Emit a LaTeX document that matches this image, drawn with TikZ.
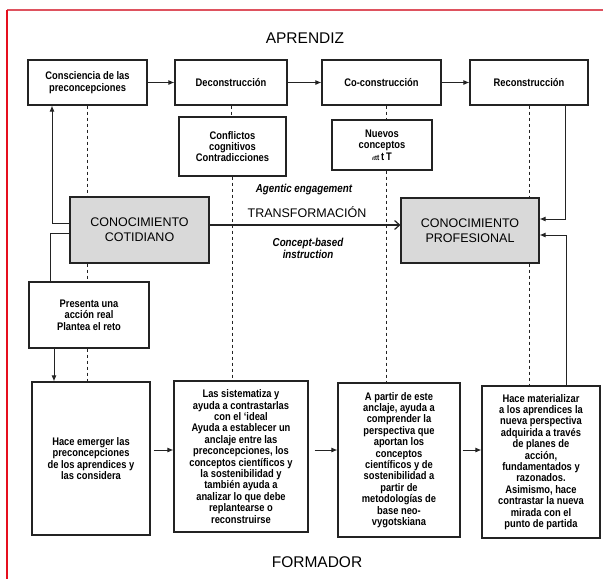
\documentclass[tikz,border=0pt]{standalone}
\usepackage{fontspec}
\setmainfont{Liberation Sans}
\newfontfamily\nar[FakeStretch=0.85]{Liberation Sans}
\usetikzlibrary{arrows.meta}
\definecolor{boxgray}{RGB}{217,217,217}
\definecolor{lineink}{RGB}{35,35,35}
\definecolor{redtop}{RGB}{222,82,95}
\definecolor{redleft}{RGB}{230,15,30}
\begin{document}
\begin{tikzpicture}[x=1pt,y=-1pt,
  box/.style={draw=lineink, line width=1.1pt, inner sep=0pt, align=center,
    font=\nar\bfseries\fontsize{11}{11.4}\selectfont},
  bigbox/.style={box, fill=boxgray, font=\fontsize{12.5}{15}\selectfont},
  dashline/.style={draw=lineink, line width=0.9pt, dash pattern=on 3.5pt off 2.5pt},
  conn/.style={draw=lineink, line width=1pt},
  arr/.style={conn, -{Latex[length=6pt,width=5pt]}},
  openarr/.style={conn, line width=1.2pt, -{Straight Barb[length=5pt,width=9pt]}},
  head/.style={font=\fontsize{15.5}{18}\selectfont, inner sep=0pt},
  note/.style={align=center, inner sep=0pt, font=\nar\bfseries\itshape\fontsize{11.5}{12}\selectfont}
]
\useasboundingbox (0,0) rectangle (603,579);
\fill[white] (0,0) rectangle (603,579);
% red frame
\draw[redtop, line width=2pt] (7,10) -- (603,10);
\draw[redleft, line width=1.8pt] (7,10) -- (7,579);

% headings
\node[head] (apr) at (305,38) {APRENDIZ};
\node[head] (form) at (317,562) {FORMADOR};

% top row
\node[box, minimum width=119pt, minimum height=45pt] (b1) at (87.5,82.5) {Consciencia de las\\preconcepciones};
\node[box, minimum width=112pt, minimum height=45pt] (b2) at (231,82.5) {Deconstrucción};
\node[box, minimum width=119pt, minimum height=45pt] (b3) at (381.5,82.5) {Co-construcción};
\node[box, minimum width=118pt, minimum height=45pt] (b4) at (529,82.5) {Reconstrucción};

% second row
\node[box, minimum width=107pt, minimum height=59pt] (conf) at (232.5,146.5) {Conflictos\\cognitivos\\Contradicciones};
\node[box, minimum width=100pt, minimum height=50pt] (nuev) at (382,145) {Nuevos\\conceptos\\{\fontsize{5}{6}\selectfont ı}{\fontsize{6}{6}\selectfont t}{\fontsize{7}{7}\selectfont t}{\fontsize{8}{8}\selectfont t}\,t\,T};

% central
\node[bigbox, minimum width=139pt, minimum height=66pt] (cot) at (139.5,230) {CONOCIMIENTO\\COTIDIANO};
\node[bigbox, minimum width=138pt, minimum height=65pt] (prof) at (470,230.5) {CONOCIMIENTO\\PROFESIONAL};
\node[note] (ag) at (304,190) {Agentic engagement};
\node[inner sep=0pt, font=\fontsize{12.5}{15}\selectfont] (tr) at (307,212) {TRANSFORMACIÓN};
\node[note] (cb) at (308,248) {Concept-based\\instruction};

% lower
\node[box, minimum width=120pt, minimum height=66pt] (pres) at (89,315) {Presenta una\\acción real\\Plantea el reto};
\node[box, minimum width=118pt, minimum height=153pt] (hace) at (91,458.5) {Hace emerger las\\preconcepciones\\de los aprendices y\\las considera};
\node[box, minimum width=134pt, minimum height=151pt] (sist) at (241,456.5) {Las sistematiza y\\ayuda a contrastarlas\\con el ‘ideal\\Ayuda a establecer un\\anclaje entre las\\preconcepciones, los\\conceptos científicos y\\la sostenibilidad y\\también ayuda a\\analizar lo que debe\\replantearse o\\reconstruirse};
\node[box, minimum width=122pt, minimum height=154pt] (apar) at (399,460) {A partir de este\\anclaje, ayuda a\\comprender la\\perspectiva que\\aportan los\\conceptos\\científicos y de\\sostenibilidad a\\partir de\\metodologías de\\base neo-\\vygotskiana};
\node[box, minimum width=118pt, minimum height=152pt] (mat) at (541,462) {Hace materializar\\a los aprendices la\\nueva perspectiva\\adquirida a través\\de planes de\\acción,\\fundamentados y\\razonados.\\Asimismo, hace\\contrastar la nueva\\mirada con el\\punto de partida};

% top row arrows
\draw[arr] (b1.east) -- (b2.west);
\draw[arr] (b2.east) -- (b3.west);
\draw[arr] (b3.east) -- (b4.west);

% left side
\draw[arr] ([yshift=7pt]cot.west) -| ([xshift=-35.5pt]b1.south);
\draw[conn] ([yshift=-3pt]cot.west) -| ([xshift=-39pt]pres.north);
\coordinate (pA) at ([xshift=-35pt]pres.south);
\draw[arr] (pA) -- (pA |- hace.north);
\draw[dashline] (b1.south) -- (b1.south |- cot.north);
\draw[dashline] (b1.south |- cot.south) -- (b1.south |- pres.north);
\draw[dashline] (b1.south |- pres.south) -- (b1.south |- hace.north);

% Deconstruccion column
\draw[dashline] (b2.south) -- (b2.south |- conf.north);
\draw[dashline] (conf.south) -- (conf.south |- sist.north);

% Co-construccion column
\coordinate (d3) at ([xshift=4pt]nuev.south);
\draw[dashline] (d3 |- b3.south) -- (d3 |- nuev.north);
\draw[dashline] (d3) -- (d3 |- apar.north);

% Reconstruccion column
\draw[dashline] (b4.south) -- (b4.south |- prof.north);
\draw[dashline] (b4.south |- prof.south) -- (b4.south |- mat.north);
\coordinate (r1) at ([xshift=36pt]b4.south);
\draw[arr] (r1) |- ([yshift=11.5pt]prof.east);
\coordinate (r2) at ([xshift=25pt]mat.north);
\draw[arr] (r2) |- ([yshift=-4.5pt]prof.east);

% transformation arrow
\coordinate (m1) at ([yshift=5pt]cot.east);
\draw[openarr] (m1) -- (m1 -| prof.west);

% bottom arrows
\coordinate (h1) at ([yshift=8.5pt]hace.east);
\draw[arr, shorten <=3pt] (h1) -- (h1 -| sist.west);
\coordinate (s1) at ([yshift=6.5pt]sist.east);
\draw[arr, shorten <=6pt] (s1) -- (s1 -| apar.west);
\coordinate (a1) at ([yshift=10pt]apar.east);
\draw[arr, shorten <=2pt] (a1) -- (a1 -| mat.west);
\end{tikzpicture}
\end{document}
